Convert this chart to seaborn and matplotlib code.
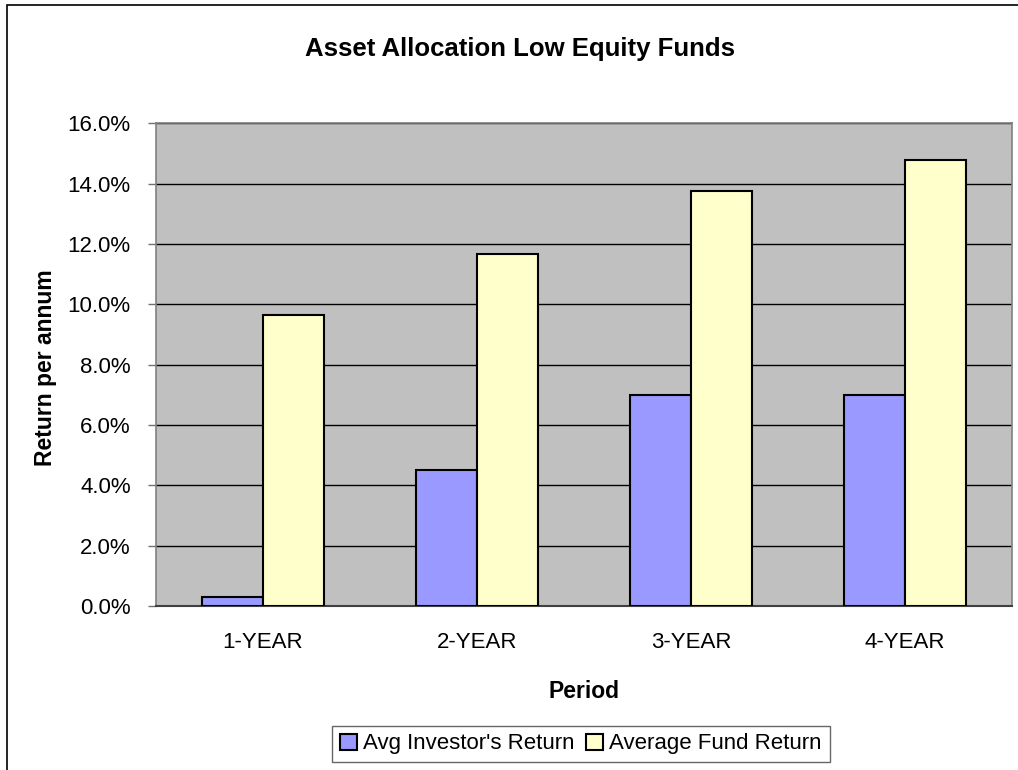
import matplotlib
matplotlib.use("Agg")
import matplotlib.pyplot as plt
import seaborn as sns
import pandas as pd
from matplotlib.ticker import PercentFormatter, FixedLocator
from matplotlib.patches import Rectangle

periods = ["1-YEAR", "2-YEAR", "3-YEAR", "4-YEAR"]
investor_return = [0.3, 4.5, 7.0, 7.0]
fund_return = [9.65, 11.67, 13.75, 14.8]
series_names = ["Avg Investor's Return", "Average Fund Return"]
colors = ["#9999FF", "#FFFFCC"]

df = pd.DataFrame({
    "Period": periods * 2,
    "Return": investor_return + fund_return,
    "Series": [series_names[0]] * 4 + [series_names[1]] * 4,
})

sns.set_theme(style="white")
plt.rcParams["font.family"] = ["Liberation Sans", "DejaVu Sans"]
plt.rcParams["text.color"] = "black"
plt.rcParams["axes.labelcolor"] = "black"

W, H = 1018, 770
fig = plt.figure(figsize=(W / 100, H / 100), dpi=100)
ax = fig.add_axes([155.7 / W, 1 - 606 / H, (1012 - 155.7) / W, (606 - 123.3) / H])
ax.set_facecolor("#C0C0C0")

sns.barplot(data=df, x="Period", y="Return", hue="Series", palette=colors,
            edgecolor="black", linewidth=1.5, width=0.572, gap=0,
            saturation=1, ax=ax, zorder=3)

ax.set_xlim(-0.5, 3.5)
ax.set_ylim(0, 16)
ax.set_yticks(range(0, 17, 2))
ax.yaxis.set_major_formatter(PercentFormatter(xmax=100, decimals=1))
ax.grid(axis="y", color="black", linewidth=1.0, zorder=0)
ax.set_axisbelow(True)

# x ticks: labels at centers, tick marks at boundaries
ax.xaxis.set_minor_locator(FixedLocator([-0.5, 0.5, 1.5, 2.5, 3.5]))
ax.tick_params(axis="x", which="major", length=0, pad=19, labelsize=16, labelcolor="black")
ax.tick_params(axis="x", which="minor", length=6, width=1, color="#707070", direction="out")
ax.tick_params(axis="y", which="major", length=6, width=1, color="#707070",
               direction="out", pad=12, labelsize=16, left=True, labelcolor="black")

for side in ["left", "top", "right"]:
    ax.spines[side].set_visible(True)
    ax.spines[side].set_color("#808080")
    ax.spines[side].set_linewidth(1.2)
ax.spines["bottom"].set_visible(True)
ax.spines["bottom"].set_color("#404040")
ax.spines["bottom"].set_linewidth(1.5)

ax.set_xlabel("Period", fontsize=16.5, fontweight="bold", va="center")
ax.xaxis.set_label_coords(0.5, (606 - 692) / (606 - 123.3))
ax.set_ylabel("Return per annum", fontsize=16.5, fontweight="bold", va="center")
ax.yaxis.set_label_coords((46 - 155.7) / (1012 - 155.7), 0.493)

fig.text(520 / W, 1 - 49 / H, "Asset Allocation Low Equity Funds",
         ha="center", va="center", fontsize=18.5, fontweight="bold")

handles, labels = ax.get_legend_handles_labels()
ax.get_legend().remove()
leg = fig.legend(handles, labels, loc="center", bbox_to_anchor=(581 / W, 1 - 744 / H),
                 ncol=2, fontsize=16, frameon=True, fancybox=False,
                 edgecolor="#404040", handlelength=0.75, handleheight=0.75,
                 handletextpad=0.3, columnspacing=0.5, borderpad=0.35,
                 borderaxespad=0)
leg.get_frame().set_linewidth(1.0)

# outer chart frame
fig.add_artist(Rectangle((7 / W, -0.2), 1.3, 1.2 - 5 / H, transform=fig.transFigure,
                         fill=False, edgecolor="black", linewidth=1.2))

fig.savefig("out.png", dpi=100, facecolor="white")
